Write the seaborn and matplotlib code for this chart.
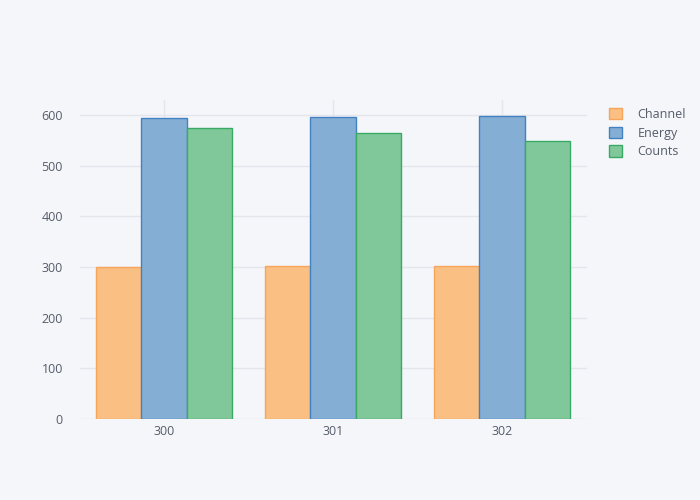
import pandas as pd
import numpy as np
import matplotlib
matplotlib.use('Agg')
import matplotlib.pyplot as plt
import seaborn as sns
from matplotlib.patches import Patch

# data
categories = ['300', '301', '302']
channel = [300, 301, 302]
energy = [594, 596, 598]
counts = [574, 564, 549]

series_names = ['Channel', 'Energy', 'Counts']
fill_colors = ['#fabf83', '#84aed4', '#80c89a']
edge_colors = ['#f8a55c', '#4282c2', '#38aa64']

bg = '#f5f6fa'
grid_color = '#e4e6ec'
text_color = '#555c6a'

df = pd.DataFrame({
    'x': categories * 3,
    'value': channel + energy + counts,
    'series': np.repeat(series_names, len(categories)),
})

sns.set_style('white')
plt.rcParams['font.family'] = ['Open Sans', 'DejaVu Sans']

fig = plt.figure(figsize=(7, 5), dpi=100, facecolor=bg)
ax = fig.add_axes([79.5 / 700, 81 / 500, 507 / 700, 319 / 500])
ax.set_facecolor(bg)

sns.barplot(data=df, x='x', y='value', hue='series', hue_order=series_names,
            palette=fill_colors, saturation=1, width=0.8, ax=ax, legend=False)

# solid outline around each bar, like the plotly original
n = len(categories)
for i, bar in enumerate(ax.patches[:3 * n]):
    bar.set_facecolor(fill_colors[i // n])
    bar.set_edgecolor(edge_colors[i // n])
    bar.set_linewidth(1)

ax.set_xlim(-0.5, 2.5)
ax.set_ylim(0, 629.6)
ax.set_yticks(range(0, 601, 100))
ax.set_xlabel('')
ax.set_ylabel('')
ax.grid(True, color=grid_color, linewidth=1)
ax.set_axisbelow(True)
for s in ax.spines.values():
    s.set_visible(False)
ax.tick_params(length=0, labelsize=9, labelcolor=text_color)
ax.tick_params(axis='y', pad=12)
ax.tick_params(axis='x', pad=4)

handles = [Patch(facecolor=f, edgecolor=e, linewidth=1, label=nm)
           for f, e, nm in zip(fill_colors, edge_colors, series_names)]
leg = fig.legend(handles=handles, loc='upper left', bbox_to_anchor=(604 / 700, 1 - 103 / 500),
                 frameon=False, fontsize=9, handlelength=1.0, handleheight=1.0,
                 handletextpad=1.3, labelspacing=0.45, borderaxespad=0)
for t in leg.get_texts():
    t.set_color(text_color)

fig.savefig('out.png', dpi=100, facecolor=bg)
